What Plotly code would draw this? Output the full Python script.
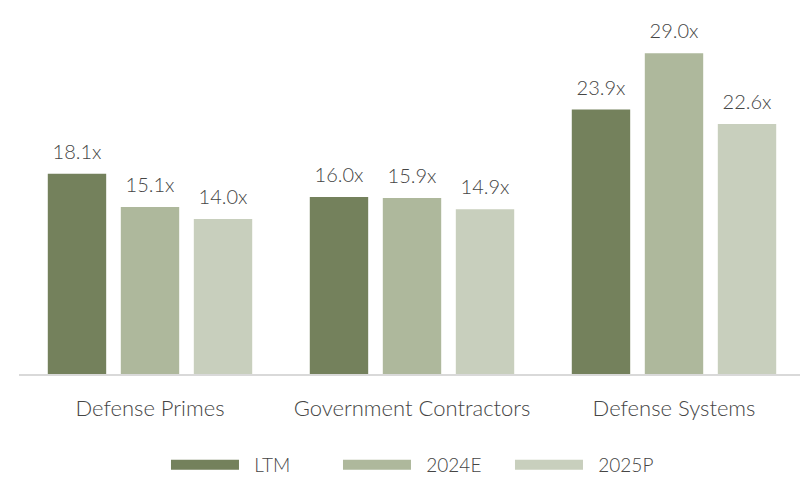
import plotly.graph_objects as go

categories = ["Defense Primes", "Government Contractors", "Defense Systems"]
series_names = ["LTM", "2024E", "2025P"]
ltm = [18.1, 16.0, 23.9]
e2024 = [15.1, 15.9, 29.0]
p2025 = [14.0, 14.9, 22.6]
colors = ["#74815c", "#aeb89c", "#c8cfbd"]

FONT = "Lato"
GREY = "#454545"
W = 300
fig = go.Figure()
for name, vals, col in zip(series_names, [ltm, e2024, p2025], colors):
    fig.add_trace(go.Bar(
        x=categories, y=vals, name=name, marker_color=col, marker_line_width=0,
        showlegend=False,
    ))
for name, vals, col in zip(series_names, [ltm, e2024, p2025], colors):
    fig.add_trace(go.Scatter(
        x=categories, y=vals, name=name, mode="markers+text",
        marker=dict(size=14, opacity=0, color=col),
        text=[f"{v:.1f}x" for v in vals], textposition="top center",
        textfont=dict(family=FONT, size=20, color=GREY, weight=W),
        cliponaxis=False, showlegend=False, hoverinfo="skip",
    ))
# legend-only entries on a hidden overlay axis so they do not take group slots
for name, col in zip(series_names, colors):
    fig.add_trace(go.Scatter(
        x=[None], y=[None], mode="lines", name="\u00a0\u00a0" + name,
        line=dict(color=col, width=12), showlegend=True,
        xaxis="x2", yaxis="y2",
    ))

fig.update_layout(
    width=808, height=484,
    margin=dict(l=11, r=11, t=2, b=118, autoexpand=False),
    plot_bgcolor="white", paper_bgcolor="white",
    barmode="group", bargap=0.164, bargroupgap=0.2,
    scattermode="group", scattergap=0.164,
    font=dict(family=FONT, color=GREY),
    xaxis=dict(showline=True, linecolor="#d9d9d9", linewidth=1.5, ticks="",
               ticklabelstandoff=14,
               tickfont=dict(family=FONT, size=22, color=GREY, weight=W)),
    yaxis=dict(range=[0, 32.9], visible=False, showgrid=False),
    xaxis2=dict(overlaying="x", visible=False),
    yaxis2=dict(overlaying="y", visible=False),
    legend=dict(orientation="h", x=0.187, xanchor="left", y=-0.25, yanchor="middle",
                font=dict(family=FONT, size=19, color=GREY, weight=W),
                itemwidth=68, entrywidth=89, entrywidthmode="pixels"),
)
fig.write_html("out.html")
